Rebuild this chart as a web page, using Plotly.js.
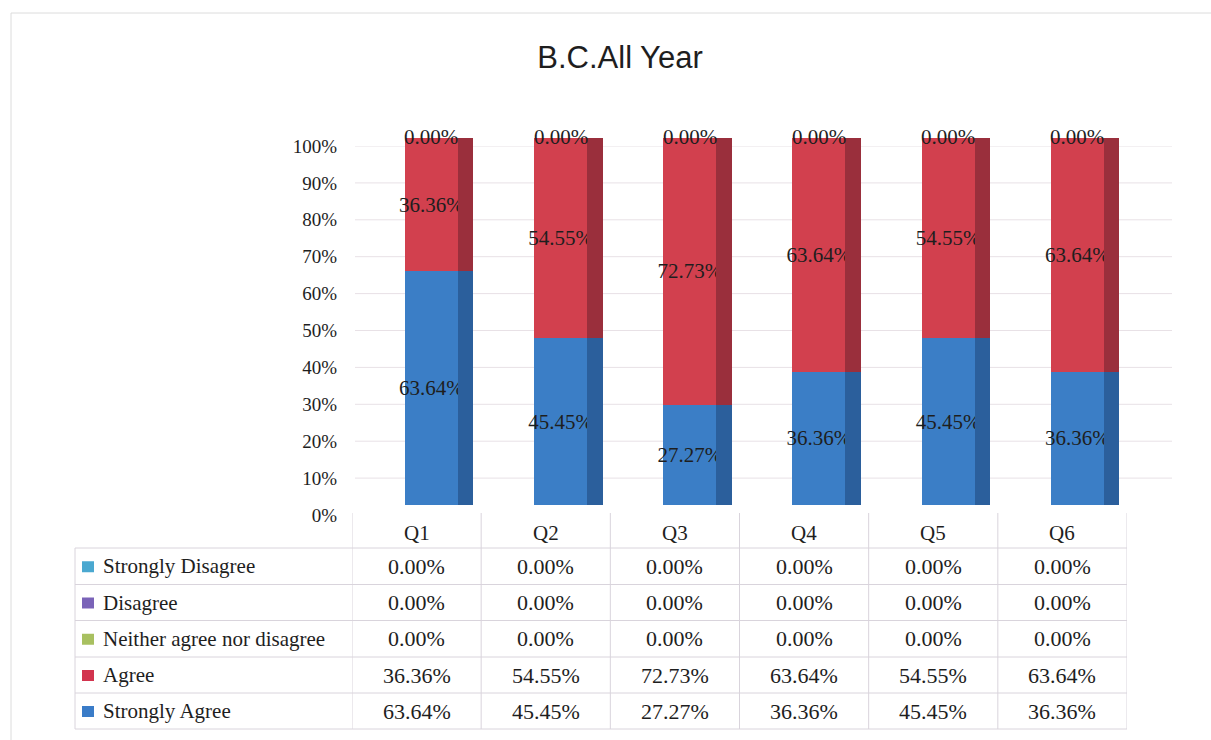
<!DOCTYPE html>
<html>
<head>
<meta charset="utf-8">
<script src="https://cdn.plot.ly/plotly-3.0.1.min.js"></script>
<style>html,body{margin:0;padding:0;background:#fff;}#chart{width:1211px;height:740px;}</style>
</head>
<body>
<div id="chart"></div>
<script>
// ---- data ----
const categories = ['Q1', 'Q2', 'Q3', 'Q4', 'Q5', 'Q6'];
const stronglyDisagree = [0, 0, 0, 0, 0, 0];
const disagree = [0, 0, 0, 0, 0, 0];
const neitherAgree = [0, 0, 0, 0, 0, 0];
const agree = [36.36, 54.55, 72.73, 63.64, 54.55, 63.64];
const stronglyAgree = [63.64, 45.45, 27.27, 36.36, 45.45, 36.36];
const seriesNames = ['Strongly Disagree', 'Disagree', 'Neither agree nor disagree', 'Agree', 'Strongly Agree'];
const yTickValues = [0, 10, 20, 30, 40, 50, 60, 70, 80, 90, 100];
const yTickLabels = ['0%', '10%', '20%', '30%', '40%', '50%', '60%', '70%', '80%', '90%', '100%'];
const chartTitle = 'B.C.All Year';

// ---- styling ----
const W = 1211, H = 740;
const px = v => v / W;
const py = v => 1 - v / H;
const frontColors = ['#4aa8d0', '#7a63b8', '#a8c060', '#d2404e', '#3b7ec6'];
const sideColors = ['#3a8aa8', '#5e4c95', '#869a4a', '#9a2f3c', '#2b5f9c'];
const legendColors = ['#4aa8d0', '#7a63b8', '#a8c060', '#d2344e', '#3a7cc8'];
const serif = 'Liberation Serif, Times New Roman, serif';
const textDark = '#1e1e1e';

// series top -> bottom (table order); stacking bottom -> top
const seriesValues = [stronglyDisagree, disagree, neitherAgree, agree, stronglyAgree];
const fmt = v => v.toFixed(2) + '%';

const FRONT_OFFSET = -0.09, FRONT_WIDTH = 0.41;
const SIDE_OFFSET = 0.32, SIDE_WIDTH = 0.12;

const traces = [];
for (let i = seriesValues.length - 1; i >= 0; i--) {
  const vals = seriesValues[i];
  traces.push({
    type: 'bar', x: categories, y: vals, name: seriesNames[i],
    xaxis: 'x', yaxis: 'y',
    offset: FRONT_OFFSET, width: FRONT_WIDTH,
    marker: {color: frontColors[i], line: {width: 0}},
    text: vals.map(v => v > 0 ? fmt(v) : ''),
    textposition: 'inside', insidetextanchor: 'middle', constraintext: 'none', textangle: 0,
    textfont: {family: serif, size: 21, color: textDark},
    hoverinfo: 'name+y', showlegend: false
  });
  traces.push({
    type: 'bar', x: categories, y: vals, name: seriesNames[i] + ' side',
    xaxis: 'x2', yaxis: 'y',
    offset: SIDE_OFFSET, width: SIDE_WIDTH,
    marker: {color: sideColors[i], line: {width: 0}},
    hoverinfo: 'skip', showlegend: false
  });
}

// ---- geometry ----
const tableLeft = 75, colLeft = 352, colRight = 1127;
const headerTop = 513, rowTops = [548, 584.5, 620.5, 657, 693], tableBottom = 729;
const plotBottom = 505, plotTop = 138;
const labelBottom = 515, labelTop = 146;
const gridLeft = 355, gridRight = 1172;

const shapes = [];
const annotations = [];
const lineStyle = {color: '#d9d4dc', width: 1};

// chart outer frame
shapes.push({type: 'rect', xref: 'paper', yref: 'paper', x0: px(11), x1: px(1220), y0: py(13), y1: py(750), line: {color: '#dcdcdc', width: 1}});

// back-wall gridlines (drawn below the bars)
yTickValues.slice(1).forEach(v => {
  shapes.push({type: 'line', xref: 'paper', yref: 'y2', x0: px(gridLeft), x1: px(gridRight), y0: v, y1: v, layer: 'below', line: {color: '#e8e1e6', width: 1}});
});

// table horizontal lines
rowTops.concat([tableBottom]).forEach(y => {
  shapes.push({type: 'line', xref: 'paper', yref: 'paper', x0: px(tableLeft), x1: px(colRight), y0: py(y), y1: py(y), line: lineStyle});
});
// left border of legend column
shapes.push({type: 'line', xref: 'paper', yref: 'paper', x0: px(tableLeft), x1: px(tableLeft), y0: py(rowTops[0]), y1: py(tableBottom), line: lineStyle});
// column separators aligned to category axis
for (let k = 0; k <= categories.length; k++) {
  shapes.push({type: 'line', xref: 'x', yref: 'paper', x0: k - 0.5, x1: k - 0.5, y0: py(headerTop), y1: py(tableBottom), line: lineStyle});
}

// header labels
categories.forEach((c, k) => {
  annotations.push({xref: 'x', yref: 'paper', x: c, y: py((headerTop + rowTops[0]) / 2 + 2), text: c, showarrow: false,
    font: {family: serif, size: 21, color: textDark}, xanchor: 'center', yanchor: 'middle'});
});

// rows
seriesNames.forEach((name, r) => {
  const top = rowTops[r];
  const bottom = r + 1 < rowTops.length ? rowTops[r + 1] : tableBottom;
  const cy = (top + bottom) / 2;
  shapes.push({type: 'rect', xref: 'paper', yref: 'paper', x0: px(82), x1: px(94), y0: py(cy - 5), y1: py(cy + 6), fillcolor: legendColors[r], line: {width: 0}});
  annotations.push({xref: 'paper', yref: 'paper', x: px(101), y: py(cy), text: name, showarrow: false,
    font: {family: serif, size: 21, color: textDark}, xanchor: 'left', yanchor: 'middle'});
  seriesValues[r].forEach((v, k) => {
    annotations.push({xref: 'x', yref: 'paper', x: categories[k], y: py(cy), text: fmt(v), showarrow: false,
      font: {family: serif, size: 22, color: textDark}, xanchor: 'center', yanchor: 'middle'});
  });
});

// zero-value labels at the top of each stack (topmost series)
categories.forEach((c, k) => {
  let total = 0;
  seriesValues.forEach(s => total += s[k]);
  annotations.push({xref: 'x', yref: 'y', x: c, y: total, text: fmt(seriesValues[0][k]), showarrow: false,
    xshift: (FRONT_OFFSET + FRONT_WIDTH / 2) * 129.2, yshift: 1,
    font: {family: serif, size: 21, color: textDark}, xanchor: 'center', yanchor: 'middle'});
});

const xDomain = [px(colLeft), px(colRight)];
const layout = {
  width: W, height: H,
  margin: {l: 0, r: 0, t: 0, b: 0},
  paper_bgcolor: '#ffffff', plot_bgcolor: 'rgba(0,0,0,0)',
  barmode: 'stack',
  title: {text: chartTitle, x: px(620), xanchor: 'center', y: py(57), yanchor: 'middle',
    font: {family: 'Liberation Sans, Arial, sans-serif', size: 31, color: '#1e1e1e'}},
  xaxis: {domain: xDomain, type: 'category', range: [-0.5, 5.5], showticklabels: false, showgrid: false, zeroline: false, showline: false, ticks: '', fixedrange: true},
  xaxis2: {domain: xDomain, type: 'category', overlaying: 'x', matches: 'x', showticklabels: false, showgrid: false, zeroline: false, showline: false, ticks: ''},
  yaxis: {domain: [py(plotBottom), py(plotTop)], range: [0, 100], showticklabels: false,
    showgrid: false, zeroline: false, showline: false, ticks: '', fixedrange: true},
  yaxis2: {domain: [py(labelBottom), py(labelTop)], range: [0, 100], anchor: 'x', side: 'left',
    tickvals: yTickValues, ticktext: yTickLabels,
    tickfont: {family: serif, size: 19, color: textDark}, ticklabelstandoff: 14,
    showgrid: false, zeroline: false, showline: false, ticks: '', fixedrange: true},
  shapes: shapes,
  annotations: annotations,
  showlegend: false
};

Plotly.newPlot('chart', traces, layout, {displayModeBar: false, staticPlot: true});
</script>
</body>
</html>
